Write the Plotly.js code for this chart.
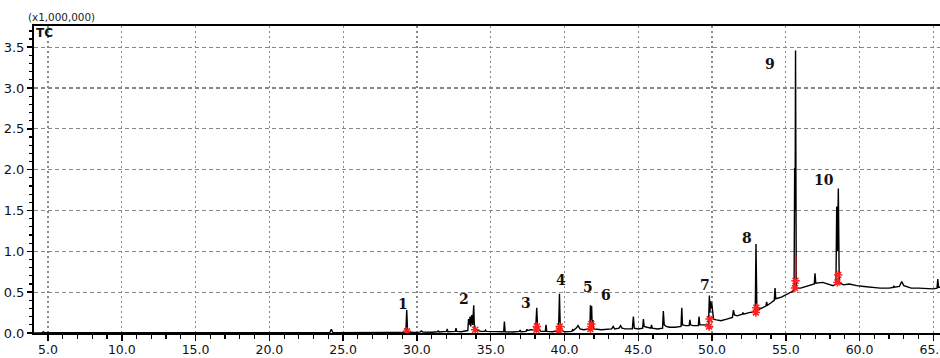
<!DOCTYPE html>
<html>
<head>
<meta charset="utf-8">
<script src="https://cdn.plot.ly/plotly-3.0.1.min.js"></script>
<style>html,body{margin:0;padding:0;background:#fff;}#chart{width:940px;height:358px;}</style>
</head>
<body>
<div id="chart"></div>
<script>
// Retention time (min) and total ion current (x1,000,000)
const rtMin = [
  4.05, 4.6, 4.68, 4.76, 10.0, 15.0, 20.0, 24.1, 24.2, 24.3, 28.0,
  29.25, 29.31, 29.37, 29.8, 30.2, 30.3, 30.4, 31.0, 31.4, 31.45, 31.5,
  32.0, 32.05, 32.1, 32.6, 32.65, 32.7, 33.0,
  33.45, 33.5, 33.55, 33.6, 33.65, 33.72, 33.78, 33.85, 33.9, 34.0, 34.3,
  34.6, 34.65, 34.7, 35.3, 35.88, 35.93, 35.98, 36.5,
  36.95, 37.0, 37.05, 37.4, 37.45, 37.5, 37.7, 37.9,
  38.05, 38.12, 38.18, 38.4, 38.7, 38.75, 38.8, 39.2,
  39.6, 39.66, 39.72, 40.0, 40.5, 40.55, 40.6, 40.8, 40.92, 41.05, 41.3,
  41.72, 41.76, 41.8, 41.84, 41.88, 41.93, 41.98, 42.5,
  43.2, 43.3, 43.4, 43.7, 43.8, 43.9, 44.1,
  44.6, 44.67, 44.73, 45.0, 45.3, 45.35, 45.4, 45.6, 45.85, 45.9, 45.95, 46.3,
  46.65, 46.7, 46.76, 46.9, 47.1, 47.5, 47.9, 47.95, 48.0, 48.2,
  48.45, 48.5, 48.55, 48.7, 49.07, 49.12, 49.17, 49.5,
  49.76, 49.82, 49.86, 49.9, 49.94, 49.98, 50.04, 50.1, 50.3, 50.6, 51.0,
  51.38, 51.45, 51.52, 51.7, 52.05, 52.1, 52.15, 52.5,
  52.93, 52.98, 53.04, 53.3, 53.65, 53.7, 53.75, 54.0,
  54.22, 54.27, 54.32, 54.7, 55.1, 55.4,
  55.56, 55.6, 55.63, 55.66, 55.71, 56.0, 56.5,
  56.93, 56.98, 57.03, 57.5, 57.9, 58.2,
  58.4, 58.45, 58.5, 58.56, 58.62, 58.9, 59.3, 59.8, 60.3, 60.8, 61.4, 62.0,
  62.3, 62.32, 62.35, 62.7, 62.85, 63.0, 63.5, 64.0, 64.6, 65.0,
  65.25, 65.3, 65.35, 65.45
];
const ticMillions = [
  0.0, 0.004, 0.015, 0.004, 0.003, 0.003, 0.003, 0.005, 0.045, 0.005, 0.006,
  0.01, 0.28, 0.012, 0.008, 0.01, 0.025, 0.012, 0.01, 0.015, 0.03, 0.012,
  0.02, 0.05, 0.015, 0.02, 0.06, 0.02, 0.015,
  0.03, 0.17, 0.1, 0.2, 0.08, 0.22, 0.1, 0.34, 0.05, 0.04, 0.02,
  0.02, 0.035, 0.02, 0.015, 0.015, 0.14, 0.015, 0.012,
  0.02, 0.035, 0.015, 0.02, 0.045, 0.03, 0.04, 0.04,
  0.05, 0.31, 0.06, 0.02, 0.02, 0.1, 0.02, 0.015,
  0.03, 0.48, 0.04, 0.015, 0.02, 0.04, 0.03, 0.06, 0.09, 0.05, 0.04,
  0.05, 0.34, 0.12, 0.33, 0.08, 0.16, 0.05, 0.04,
  0.05, 0.08, 0.05, 0.06, 0.09, 0.06, 0.05,
  0.05, 0.2, 0.06, 0.05, 0.06, 0.17, 0.08, 0.07, 0.06, 0.1, 0.06, 0.05,
  0.06, 0.27, 0.1, 0.08, 0.07, 0.07, 0.08, 0.31, 0.1, 0.09,
  0.09, 0.16, 0.1, 0.09, 0.09, 0.2, 0.1, 0.1,
  0.1, 0.46, 0.25, 0.39, 0.3, 0.37, 0.2, 0.17, 0.16, 0.15, 0.17,
  0.19, 0.28, 0.22, 0.21, 0.23, 0.25, 0.23, 0.25,
  0.26, 1.09, 0.28, 0.3, 0.33, 0.38, 0.34, 0.37,
  0.4, 0.55, 0.42, 0.44, 0.48, 0.51,
  0.52, 2.02, 1.5, 3.46, 0.55, 0.55, 0.58,
  0.6, 0.73, 0.61, 0.62, 0.6, 0.58,
  0.6, 1.55, 1.0, 1.77, 0.62, 0.59, 0.6, 0.58, 0.57, 0.56, 0.55, 0.55,
  0.56, 0.58, 0.56, 0.57, 0.63, 0.58, 0.55, 0.55, 0.54, 0.54,
  0.55, 0.66, 0.56, 0.56
];

// Integration marks (red) at labelled peaks
const markRt = [29.32, 33.95, 38.1, 38.13, 39.63, 39.68, 41.76, 41.82, 49.8, 49.84, 52.97, 53.0, 55.62, 55.66, 58.5, 58.55];
const markTic = [0.02, 0.04, 0.04, 0.08, 0.03, 0.08, 0.05, 0.11, 0.08, 0.17, 0.25, 0.31, 0.55, 0.64, 0.62, 0.71];
const redSegRt = [55.67, 55.67];
const redSegTic = [0.69, 0.94];

// Peak numbers and where they are written
const peakLabels = ["1", "2", "3", "4", "5", "6", "7", "8", "9", "10"];
const labelRt = [29.06, 33.2, 37.38, 39.75, 41.62, 42.82, 49.53, 52.35, 53.93, 57.59];
const labelTic = [0.35, 0.42, 0.37, 0.65, 0.56, 0.47, 0.59, 1.16, 3.30, 1.88];

const xTickVals = [5, 10, 15, 20, 25, 30, 35, 40, 45, 50, 55, 60, 65];
const xTickText = ["5.0", "10.0", "15.0", "20.0", "25.0", "30.0", "35.0", "40.0", "45.0", "50.0", "55.0", "60.0", "65.0"];
const yTickVals = [0, 0.5, 1.0, 1.5, 2.0, 2.5, 3.0, 3.5];
const yTickText = ["0.0", "0.5", "1.0", "1.5", "2.0", "2.5", "3.0", "3.5"];

const yTickFont = {family: "DejaVu Sans, sans-serif", size: 13, color: "#101018"};
const xTickFont = {family: "DejaVu Sans, sans-serif", size: 12.5, color: "#101018"};

const traces = [
  {x: rtMin, y: ticMillions, type: "scatter", mode: "lines",
   line: {color: "#000", width: 1.4}, hoverinfo: "skip"},
  {x: redSegRt, y: redSegTic, type: "scatter", mode: "lines",
   line: {color: "#ff2020", width: 1.6}, hoverinfo: "skip"},
  {x: markRt, y: markTic, type: "scatter", mode: "markers",
   marker: {symbol: "asterisk-open", size: 7, color: "#ff2020", line: {color: "#ff2020", width: 1.5}},
   hoverinfo: "skip"}
];

const annotations = peakLabels.map((t, i) => ({
  x: labelRt[i], y: labelTic[i], xref: "x", yref: "y", text: "<b>" + t + "</b>", showarrow: false,
  font: {family: "DejaVu Serif, serif", size: 14, color: "#111"},
  xanchor: "center", yanchor: "middle"
}));
annotations.push({
  x: -0.009, y: 1.028, xref: "paper", yref: "paper", text: "(x1,000,000)", showarrow: false,
  xanchor: "left", yanchor: "middle",
  font: {family: "DejaVu Sans, sans-serif", size: 10.4, color: "#222"}
});
annotations.push({
  x: 0.0, y: 0.978, xref: "paper", yref: "paper", text: "<b>TC</b>", showarrow: false,
  xanchor: "left", yanchor: "middle",
  font: {family: "DejaVu Sans, sans-serif", size: 12, color: "#111"}
});

const layout = {
  width: 940, height: 358,
  margin: {l: 34, r: 0, t: 26, b: 25, pad: 0},
  paper_bgcolor: "#fff", plot_bgcolor: "#fff",
  showlegend: false,
  xaxis: {
    range: [4.05, 65.45], tickvals: xTickVals, ticktext: xTickText,
    ticks: "outside", ticklen: 6, tickwidth: 1.5, tickcolor: "#000",
    minor: {dtick: 1, tick0: 0, ticks: "outside", ticklen: 4, tickwidth: 1.2, tickcolor: "#000", showgrid: false},
    showgrid: true, gridcolor: "#888", gridwidth: 1.2, griddash: "2px,3px",
    showline: true, linecolor: "#000", linewidth: 2, mirror: true,
    zeroline: false, tickfont: xTickFont, ticklabelstandoff: -2, ticklabeloverflow: "allow", fixedrange: true
  },
  yaxis: {
    range: [0, 3.76], tickvals: yTickVals, ticktext: yTickText,
    ticks: "outside", ticklen: 5, tickwidth: 1.5, tickcolor: "#000",
    minor: {dtick: 0.1, tick0: 0, ticks: "outside", ticklen: 3, tickwidth: 1.2, tickcolor: "#000", showgrid: false},
    showgrid: true, gridcolor: "#888", gridwidth: 1.2, griddash: "4px,3px",
    showline: true, linecolor: "#000", linewidth: 2,
    zeroline: false, tickfont: yTickFont, fixedrange: true
  },
  annotations: annotations
};

Plotly.newPlot("chart", traces, layout, {staticPlot: true, displayModeBar: false});
</script>
</body>
</html>
